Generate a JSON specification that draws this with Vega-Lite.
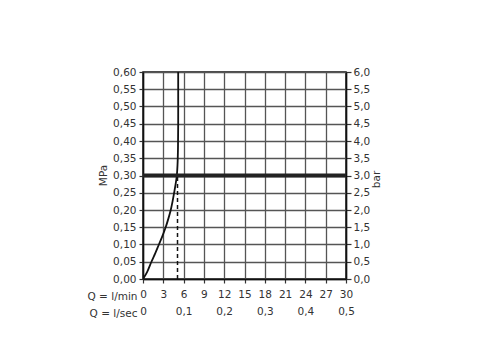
{
  "$schema": "https://vega.github.io/schema/vega-lite/v6.json",
  "width": 203,
  "height": 207,
  "autosize": {"type": "none"},
  "padding": {"left": 143, "top": 72, "right": 134, "bottom": 81},
  "background": "white",
  "config": {
    "view": {"stroke": "#111", "strokeWidth": 1.5},
    "font": "DejaVu Sans",
    "axis": {
      "labelFont": "DejaVu Sans",
      "titleFont": "DejaVu Sans",
      "labelFontSize": 10.5,
      "titleFontSize": 10.5,
      "labelColor": "#333",
      "titleColor": "#333",
      "titleFontWeight": "normal",
      "domainColor": "#111",
      "domainWidth": 1.5,
      "tickColor": "#333",
      "tickWidth": 1.2,
      "gridColor": "#555",
      "gridWidth": 1.3,
      "gridOpacity": 1
    }
  },
  "resolve": {"axis": {"x": "independent", "y": "independent"}},
  "layer": [
    {
      "data": {"values": [
        {"q": 0, "p": 0},
        {"q": 0.6, "p": 0.02},
        {"q": 1.25, "p": 0.05},
        {"q": 1.82, "p": 0.075},
        {"q": 2.35, "p": 0.10},
        {"q": 2.88, "p": 0.125},
        {"q": 3.35, "p": 0.15},
        {"q": 3.75, "p": 0.175},
        {"q": 4.1, "p": 0.20},
        {"q": 4.37, "p": 0.225},
        {"q": 4.6, "p": 0.25},
        {"q": 4.82, "p": 0.275},
        {"q": 5.0, "p": 0.30},
        {"q": 5.1, "p": 0.33},
        {"q": 5.17, "p": 0.38},
        {"q": 5.2, "p": 0.45},
        {"q": 5.2, "p": 0.60}
      ]},
      "mark": {"type": "line", "color": "#111", "strokeWidth": 1.8, "interpolate": "catmull-rom", "clip": true},
      "encoding": {
        "x": {
          "field": "q", "type": "quantitative",
          "scale": {"domain": [0, 30], "nice": false, "zero": false},
          "axis": {
            "orient": "bottom",
            "values": [0, 3, 6, 9, 12, 15, 18, 21, 24, 27, 30],
            "grid": true,
            "tickSize": 4,
            "labelPadding": 6,
            "labelFlush": false,
            "labelOverlap": false,
            "title": "Q = l/min",
            "titleAngle": 0,
            "titleAnchor": "start",
            "titleAlign": "right",
            "titleBaseline": "middle",
            "titleX": -6,
            "titleY": 17
          }
        },
        "y": {
          "field": "p", "type": "quantitative",
          "scale": {"domain": [0, 0.6], "nice": false, "zero": false},
          "axis": {
            "orient": "left",
            "values": [0, 0.05, 0.1, 0.15, 0.2, 0.25, 0.3, 0.35, 0.4, 0.45, 0.5, 0.55, 0.6],
            "grid": true,
            "tickSize": 4,
            "labelPadding": 3,
            "labelFlush": false,
            "labelOverlap": false,
            "labelExpr": "replace(format(datum.value, '.2f'), '.', ',')",
            "title": "MPa",
            "titleAngle": -90,
            "titleAlign": "center",
            "titleBaseline": "middle",
            "titleX": -40,
            "titleY": 103
          }
        },
        "order": {"field": "p", "type": "quantitative"}
      }
    },
    {
      "data": {"values": [{"p": 0.3}]},
      "mark": {"type": "rule", "color": "#222", "strokeWidth": 4},
      "encoding": {
        "y": {
          "field": "p", "type": "quantitative",
          "axis": {
            "orient": "right",
            "values": [0, 0.05, 0.1, 0.15, 0.2, 0.25, 0.3, 0.35, 0.4, 0.45, 0.5, 0.55, 0.6],
            "grid": false,
            "tickSize": 5,
            "labelPadding": 2,
            "labelFlush": false,
            "labelOverlap": false,
            "labelExpr": "replace(format(datum.value * 10, '.1f'), '.', ',')",
            "title": "bar",
            "titleAngle": -90,
            "titleAlign": "center",
            "titleBaseline": "middle",
            "titleX": 30,
            "titleY": 107
          }
        }
      }
    },
    {
      "data": {"values": [{"q": 5.1, "p": 0, "p2": 0.3}]},
      "mark": {"type": "rule", "color": "#111", "strokeWidth": 1.5, "strokeDash": [4, 3]},
      "encoding": {
        "x": {
          "field": "q", "type": "quantitative",
          "axis": {
            "orient": "bottom",
            "offset": 17,
            "values": [0, 6, 12, 18, 24, 30],
            "grid": false,
            "ticks": false,
            "domain": false,
            "tickSize": 0,
            "labelPadding": 10,
            "labelFlush": false,
            "labelOverlap": false,
            "labelExpr": "datum.value == 0 ? '0' : replace(format(datum.value / 60, '.1f'), '.', ',')",
            "title": "Q = l/sec",
            "titleAngle": 0,
            "titleAnchor": "start",
            "titleAlign": "right",
            "titleBaseline": "middle",
            "titleX": -6,
            "titleY": 17
          }
        },
        "y": {"field": "p", "type": "quantitative", "axis": null},
        "y2": {"field": "p2"}
      }
    }
  ]
}
